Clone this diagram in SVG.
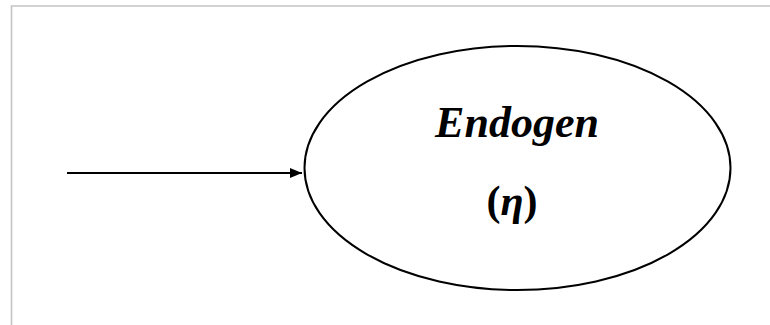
<svg xmlns="http://www.w3.org/2000/svg" width="770" height="325" viewBox="0 0 770 325">
<style>
.frame{stroke:#c4c4c4;stroke-width:1.6;fill:none}
.node{fill:#fff;stroke:#000;stroke-width:2}
.edge{stroke:#000;stroke-width:2;fill:none}
.lbl{font-family:"Liberation Serif","Times New Roman",serif;font-weight:bold;text-anchor:middle;fill:#000}
</style>
<defs>
<marker id="arr" markerWidth="12" markerHeight="10" refX="12" refY="5" orient="auto" markerUnits="userSpaceOnUse">
<path d="M0,0 L12,5 L0,10 Z" fill="#000"/>
</marker>
</defs>
<rect width="770" height="325" fill="#fff"/>
<path class="frame" d="M11.5,325 V6 H770"/>
<g id="connectors">
<line class="edge" x1="67" y1="173" x2="302" y2="173" marker-end="url(#arr)"/>
</g>
<g id="endogen">
<ellipse class="node" cx="517.5" cy="168" rx="213" ry="122"/>
<text class="lbl" x="517" y="137" font-size="44" font-style="italic">Endogen</text>
<text class="lbl" x="512" y="215" font-size="42">(<tspan font-style="italic">η</tspan>)</text>
</g>
</svg>
